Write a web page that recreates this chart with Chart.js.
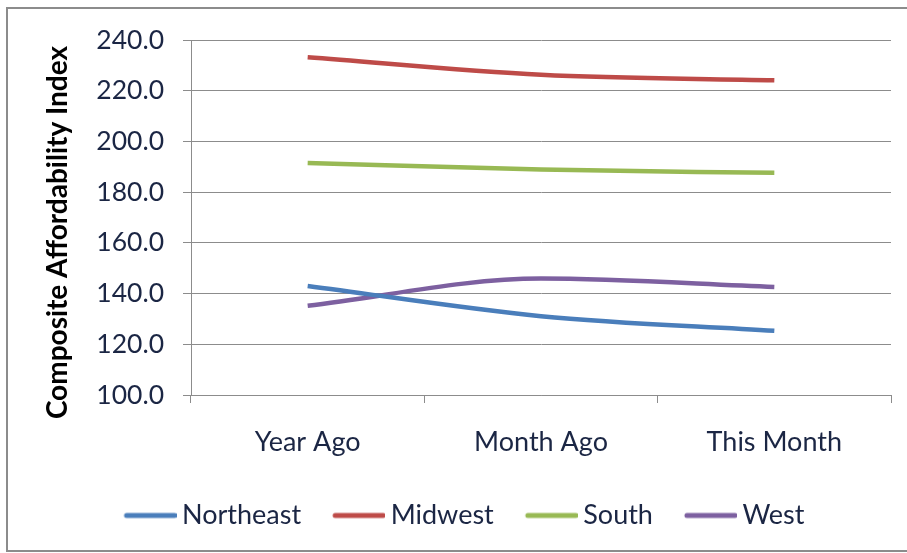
<!DOCTYPE html>
<html>
<head>
<meta charset="utf-8">
<script src="https://cdn.jsdelivr.net/npm/chart.js@4/dist/chart.umd.min.js"></script>
<style>
  html, body { margin: 0; padding: 0; background: #fff; overflow: hidden; }
  #wrap { position: relative; width: 907px; height: 553px; }
  #frame {
    position: absolute; left: 6px; top: 7px; width: 940px; height: 545px;
    box-sizing: border-box; border: 2px solid #8c8c8c; pointer-events: none;
  }
  canvas { position: absolute; left: 0; top: 0; }
</style>
</head>
<body>
<div id="wrap">
  <canvas id="chart" width="907" height="553"></canvas>
  <div id="frame"></div>
</div>
<script>
// Regional composite affordability index
const categories = ['Year Ago', 'Month Ago', 'This Month'];
const northeast = [143.0, 131.1, 125.3];
const midwest   = [233.2, 226.3, 224.1];
const south     = [191.5, 188.9, 187.6];
const west      = [135.2, 145.9, 142.6];
const yAxisTitle = 'Composite Affordability Index';
const yMin = 100, yMax = 240, yStep = 20;

const TEXT = '#1b2644';
const GRID = '#8c8c8c';
const FONT = 'Lato';

// Legend swatch: a short rounded line, offset so it sits close to its label
function legendSwatch(color) {
  const c = document.createElement('canvas');
  c.width = 82; c.height = 8;
  const g = c.getContext('2d');
  g.strokeStyle = color;
  g.lineWidth = 5;
  g.lineCap = 'round';
  g.beginPath();
  g.moveTo(32, 4);
  g.lineTo(80, 4);
  g.stroke();
  return c;
}

// Rotated axis title drawn beside the value axis
const yTitlePlugin = {
  id: 'yTitle',
  afterDraw(chart, args, opts) {
    const { ctx, chartArea } = chart;
    ctx.save();
    ctx.translate(opts.x, (chartArea.top + chartArea.bottom) / 2 + opts.shift);
    ctx.rotate(-Math.PI / 2);
    ctx.font = 'bold 28px ' + FONT;
    ctx.fillStyle = '#000';
    ctx.textAlign = 'center';
    ctx.textBaseline = 'middle';
    ctx.fillText(yAxisTitle, 0, 0);
    ctx.restore();
  }
};

function series(label, data, color) {
  return {
    label, data,
    borderColor: color,
    backgroundColor: color,
    borderWidth: 4.5,
    pointRadius: 0,
    pointHoverRadius: 0,
    cubicInterpolationMode: 'monotone',
    fill: false
  };
}

new Chart(document.getElementById('chart'), {
  type: 'line',
  data: {
    labels: categories,
    datasets: [
      series('Northeast', northeast, '#4a7ebb'),
      series('Midwest', midwest, '#be4b48'),
      series('South', south, '#98b954'),
      series('West', west, '#7d60a0')
    ]
  },
  options: {
    responsive: false,
    devicePixelRatio: 1,
    animation: false,
    layout: { padding: { top: 40, right: 16, left: 16, bottom: 14 } },
    plugins: {
      tooltip: { enabled: false },
      yTitle: { x: 58, shift: 15 },
      legend: {
        position: 'bottom',
        labels: {
          usePointStyle: true,
          pointStyleWidth: 66,
          padding: 10,
          color: TEXT,
          font: { family: FONT, size: 27 },
          generateLabels(chart) {
            const items = Chart.defaults.plugins.legend.labels.generateLabels(chart);
            items.forEach(it => { it.pointStyle = legendSwatch(it.strokeStyle); });
            return items;
          }
        }
      }
    },
    scales: {
      x: {
        offset: true,
        grid: { offset: true, drawOnChartArea: false, drawTicks: true, tickLength: 8, color: GRID },
        border: { display: true, color: GRID },
        ticks: { color: TEXT, padding: 23, font: { family: FONT, size: 27 } },
        afterFit(axis) { axis.height = 97; }
      },
      y: {
        min: yMin, max: yMax,
        grid: { color: GRID, tickLength: 8 },
        border: { display: true, color: GRID },
        ticks: {
          stepSize: yStep,
          padding: 19,
          color: TEXT,
          font: { family: FONT, size: 26.5 },
          callback: v => Number(v).toFixed(1)
        },
        afterFit(axis) { axis.width = 175; }
      }
    }
  },
  plugins: [yTitlePlugin]
});
</script>
</body>
</html>
